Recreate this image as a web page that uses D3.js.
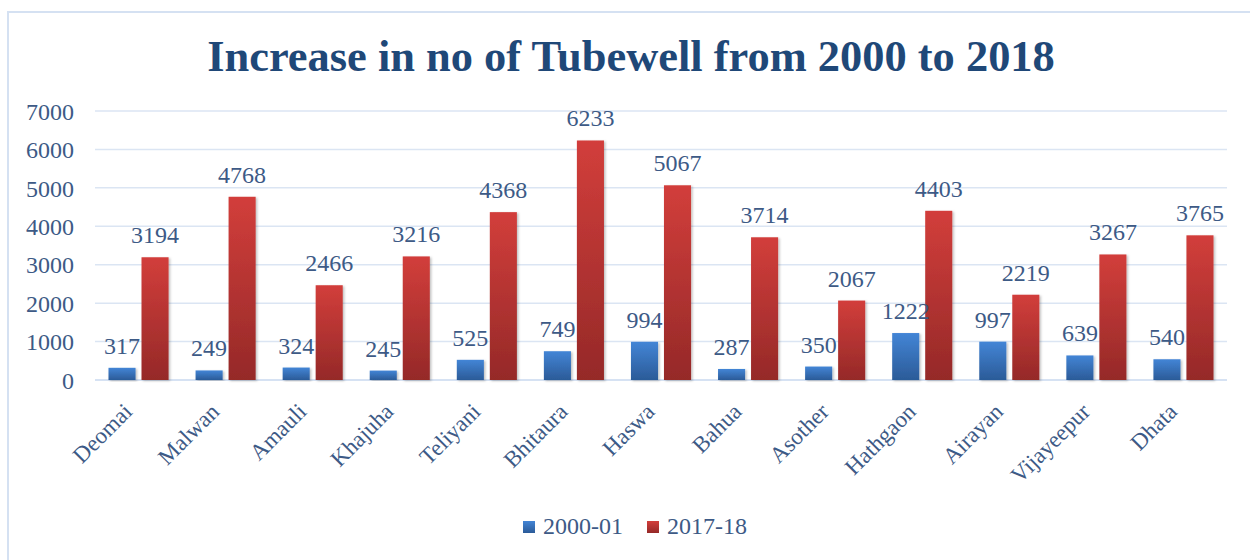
<!DOCTYPE html>
<html><head><meta charset="utf-8">
<script src="https://cdn.jsdelivr.net/npm/d3@7/dist/d3.min.js"></script>
<style>html,body{margin:0;padding:0;background:#fff;}svg{display:block;}</style>
</head><body>
<script>
const categories = ["Deomai","Malwan","Amauli","Khajuha","Teliyani","Bhitaura","Haswa","Bahua","Asother","Hathgaon","Airayan","Vijayeepur","Dhata"];
const series2000 = [317,249,324,245,525,749,994,287,350,1222,997,639,540];
const series2017 = [3194,4768,2466,3216,4368,6233,5067,3714,2067,4403,2219,3267,3765];
const seriesNames = ["2000-01","2017-18"];
const yTicks = [0,1000,2000,3000,4000,5000,6000,7000];
const titleText = "Increase in no of Tubewell from 2000 to 2018";

(function(){
const W = 1250, H = 560;
const pLeft = 95, pRight = 1227, pTop = 111, pBottom = 380;
const font = "'Liberation Serif', 'Times New Roman', serif";
const textColor = "#3d5a86";

const svg = d3.select("body").append("svg").attr("width", W).attr("height", H);
const defs = svg.append("defs");
function grad(id, c1, c2){
  const g = defs.append("linearGradient").attr("id", id).attr("x1",0).attr("y1",0).attr("x2",0).attr("y2",1);
  g.append("stop").attr("offset","0%").attr("stop-color",c1);
  g.append("stop").attr("offset","100%").attr("stop-color",c2);
}
grad("gBlue", "#4385d6", "#2b5b98");
grad("gRed", "#d23e3b", "#952928");
const f = defs.append("filter").attr("id","sh").attr("x","-20%").attr("y","-5%").attr("width","150%").attr("height","115%");
f.append("feDropShadow").attr("dx",1.5).attr("dy",1).attr("stdDeviation",1.2).attr("flood-color","#000").attr("flood-opacity",0.25);

// border
svg.append("rect").attr("x",8).attr("y",12).attr("width",1260).attr("height",580)
  .attr("fill","none").attr("stroke","#d5e1f2").attr("stroke-width",2);

const y = d3.scaleLinear().domain([0,7000]).range([pBottom, pTop]);
const x0 = d3.scaleBand().domain(categories).range([pLeft, pRight]).paddingInner(0.31).paddingOuter(0.155);
const x1 = d3.scaleBand().domain(seriesNames).range([0, x0.bandwidth()]).paddingInner(0.18);

// gridlines
svg.append("g").selectAll("line").data(yTicks).join("line")
  .attr("x1", pLeft).attr("x2", pRight).attr("y1", d=>y(d)).attr("y2", d=>y(d))
  .attr("stroke", d=> d===0 ? "#c9d9ef" : "#dbe5f3").attr("stroke-width", 1.5);

// y axis labels
const yAxis = d3.axisLeft(y).tickValues(yTicks).tickSize(0).tickPadding(0).tickFormat(d3.format("d"));
const ya = svg.append("g").attr("transform", `translate(74,0)`).call(yAxis);
ya.select(".domain").remove();
ya.selectAll("text").attr("font-family", font).attr("font-size", 24).attr("fill", textColor).attr("dy","0.34em");

// bars
const data = categories.map((c,i)=>({c, vals:[{k:seriesNames[0], v:series2000[i]},{k:seriesNames[1], v:series2017[i]}]}));
const groups = svg.append("g").selectAll("g").data(data).join("g")
  .attr("transform", d=>`translate(${x0(d.c)},0)`);
groups.selectAll("rect").data(d=>d.vals).join("rect")
  .attr("x", d=>x1(d.k)).attr("width", x1.bandwidth())
  .attr("y", d=>y(d.v)).attr("height", d=>y(0)-y(d.v))
  .attr("fill", d=> d.k===seriesNames[0] ? "url(#gBlue)" : "url(#gRed)")
  .attr("filter","url(#sh)");
groups.selectAll("text").data(d=>d.vals).join("text")
  .attr("x", d=>x1(d.k)+x1.bandwidth()/2).attr("y", d=>y(d.v)-14)
  .attr("text-anchor","middle").attr("font-family", font).attr("font-size", 24)
  .attr("fill", textColor).text(d=>d.v);

// x axis labels
const xAxis = d3.axisBottom(x0).tickSize(0).tickPadding(0);
const xa = svg.append("g").attr("transform", `translate(0,${pBottom})`).call(xAxis);
xa.select(".domain").remove();
xa.selectAll(".tick text")
  .attr("font-family", font).attr("font-size", 23).attr("fill", textColor)
  .attr("text-anchor","end").attr("dy", 0).attr("y", 0)
  .attr("transform", "translate(-5,33) rotate(-45)");

// title
const title = svg.append("text").attr("x", 631).attr("y", 71).attr("text-anchor","middle")
  .attr("font-family", font).attr("font-weight","bold").attr("font-size", 42)
  .attr("fill", "#1f4878").text(titleText);
const tw = title.node().getComputedTextLength();
title.attr("font-size", 42*848/tw);

// legend
const lg = svg.append("g");
const legendItems = [{name:seriesNames[0], fill:"url(#gBlue)", x:523},{name:seriesNames[1], fill:"url(#gRed)", x:647}];
legendItems.forEach(it=>{
  lg.append("rect").attr("x", it.x).attr("y", 521).attr("width", 12).attr("height", 12).attr("fill", it.fill);
  lg.append("text").attr("x", it.x+20).attr("y", 534).attr("font-family", font).attr("font-size", 24)
    .attr("fill", textColor).text(it.name);
});
})();
</script>
</body></html>
